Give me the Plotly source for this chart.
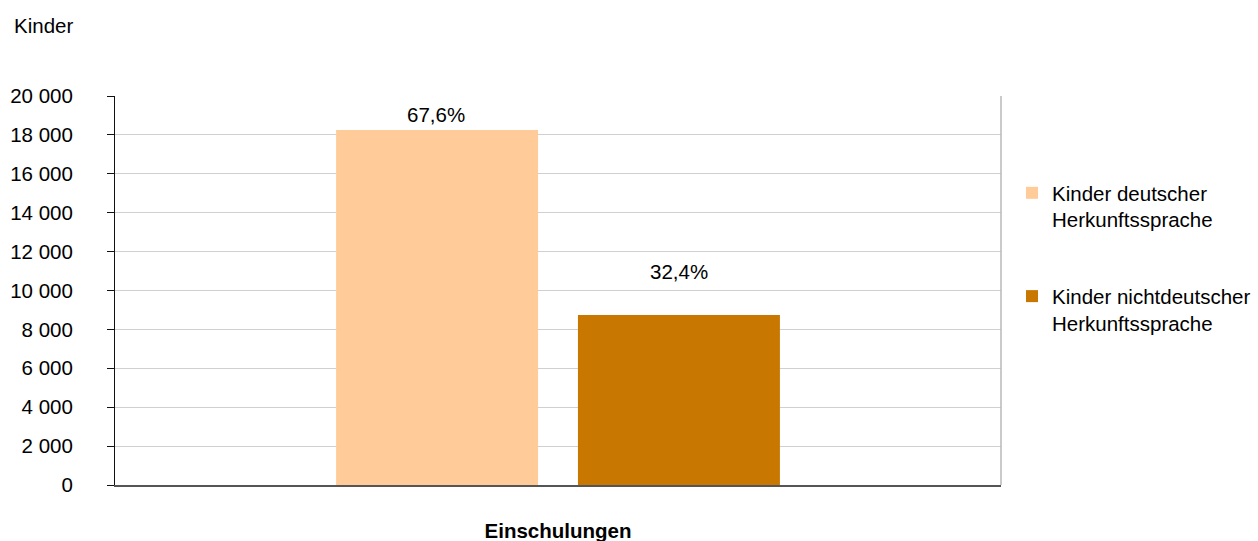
import plotly.graph_objects as go

categories = ["Einschulungen"]
series_names = ["Kinder deutscher<br>Herkunftssprache", "Kinder nichtdeutscher<br>Herkunftssprache"]
values_deutsch = [18250]
values_nichtdeutsch = [8740]
y_tickvals = [0, 2000, 4000, 6000, 8000, 10000, 12000, 14000, 16000, 18000, 20000]
y_ticktext = ["0", "2 000", "4 000", "6 000", "8 000", "10 000", "12 000", "14 000", "16 000", "18 000", "20 000"]

colors = ["#FFCC99", "#C87700"]
FONT = "Liberation Sans, Arial, sans-serif"
FS = 20.5

# plot area in pixels
L, R, T, B = 115, 1001, 96, 485
W, H = 1258, 541
PW, PH = R - L, B - T

def px_x(px):
    return (px - L) / PW

def px_y(py):
    return (B - py) / PH

total = values_deutsch[0] + values_nichtdeutsch[0]
pcts = [v / total * 100 for v in (values_deutsch[0], values_nichtdeutsch[0])]

fig = go.Figure()
fig.add_trace(go.Bar(x=categories, y=values_deutsch, name=series_names[0],
                     marker=dict(color=colors[0], line=dict(width=0)),
                     legendgroup="a", hoverinfo="skip"))
fig.add_trace(go.Bar(x=categories, y=values_nichtdeutsch, name=series_names[1],
                     marker=dict(color=colors[1], line=dict(width=0)),
                     legendgroup="b", hoverinfo="skip"))

# percentage labels
label_offsets = [(-122, 2), (121, 30)]
for val, pct, (xs, ys) in zip((values_deutsch[0], values_nichtdeutsch[0]), pcts, label_offsets):
    fig.add_annotation(x=categories[0], y=val, xref="x", yref="y",
                       text=f"{pct:.1f}%".replace(".", ","), showarrow=False,
                       xshift=xs, yshift=ys, yanchor="bottom",
                       font=dict(family=FONT, size=FS, color="#000"))

# y axis caption
fig.add_annotation(x=px_x(12), y=px_y(25), xref="paper", yref="paper", text="Kinder",
                   showarrow=False, xanchor="left", yanchor="middle",
                   font=dict(family=FONT, size=FS, color="#000"))

fig.update_layout(
    width=W, height=H,
    margin=dict(l=L, r=W - R, t=T, b=H - B, autoexpand=False),
    paper_bgcolor="white", plot_bgcolor="white",
    font=dict(family=FONT, size=FS, color="#000"),
    barmode="group", bargap=0.454, bargroupgap=0.165,
    showlegend=True,
    legend=dict(x=px_x(1012), y=px_y(173), xanchor="left", yanchor="top",
                tracegroupgap=47, valign="top", itemwidth=30,
                font=dict(family=FONT, size=FS, color="#000"),
                bgcolor="rgba(0,0,0,0)"),
    xaxis=dict(range=[-0.5, 0.5], showline=True, linecolor="#555555", linewidth=1.5,
               ticks="", showgrid=False, tickvals=categories, automargin=False,
               ticktext=["<b>" + c + "</b>" for c in categories],
               ticklabelstandoff=27, tickfont=dict(family=FONT, size=FS, color="#000")),
    yaxis=dict(range=[0, 20000], tickvals=y_tickvals, ticktext=y_ticktext,
               showline=True, linecolor="#111111", linewidth=1, automargin=False,
               ticks="outside", ticklen=7, tickcolor="#111111",
               showgrid=True, gridcolor="#D0D0D0", gridwidth=1,
               ticklabelstandoff=30, tickfont=dict(family=FONT, size=FS, color="#000"),
               zeroline=False),
    shapes=[dict(type="line", xref="paper", yref="paper", x0=1, x1=1, y0=0, y1=1,
                 line=dict(color="#B8B8B8", width=1.5))],
)

fig.write_html("out.html", config={"displayModeBar": False},
               post_script="document.body.style.margin='0';document.body.style.overflow='hidden';")
